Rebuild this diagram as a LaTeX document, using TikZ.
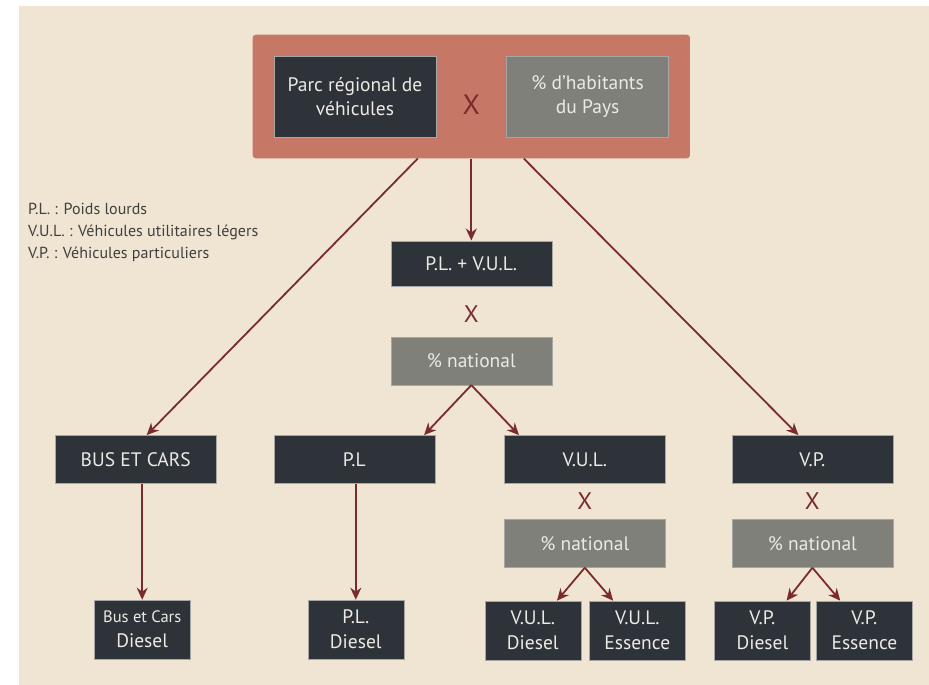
\documentclass[tikz,border=0pt]{standalone}
\usepackage{fontspec}
\setmainfont{PT Sans}
\usetikzlibrary{arrows.meta, positioning, calc, fit, backgrounds}
\definecolor{bgbeige}{HTML}{F0E5D2}
\definecolor{salmon}{HTML}{C77766}
\definecolor{slate}{HTML}{2E333A}
\definecolor{stone}{HTML}{7F8079}
\definecolor{wine}{HTML}{7A2C2C}
\definecolor{paper}{HTML}{ECEAE3}
\tikzset{
  box/.style={
    rectangle, draw=black!35, line width=0.6pt, text=paper, align=center,
    inner sep=0pt, font=\fontsize{19.5}{24}\selectfont
  },
  darkbox/.style={box, fill=slate, minimum width=161pt, minimum height=48pt},
  greybox/.style={box, fill=stone, minimum width=161pt, minimum height=48pt},
  leafbox/.style={box, fill=slate, minimum width=96pt, minimum height=59pt,
    font=\fontsize{19.5}{25}\selectfont},
  cross/.style={text=wine, inner sep=0pt, minimum height=30pt, font=\fontsize{24}{24}\selectfont},
  edge/.style={-{Stealth[length=12pt,width=11pt]}, draw=wine, line width=1.8pt},
  legend/.style={align=left, anchor=north west, inner sep=0pt, text=black!75,
    font=\fontsize{16}{22}\selectfont}
}

\begin{document}
\begin{tikzpicture}[x=1pt, y=1pt]
    \useasboundingbox (0,0) rectangle (929,-685);
    % top: regional fleet x share of inhabitants
    \node[darkbox, minimum width=162pt, minimum height=81pt] (parc) at (355,-96.5) {Parc régional de\\véhicules};
    \node[greybox, minimum width=162pt, minimum height=81pt, right=70pt of parc] (habit) {\% d'habitants\\du Pays};
    \path (parc) -- node[cross, yshift=-8pt, font=\fontsize{28}{28}\selectfont] (x0) {X} (habit);
    \begin{scope}[on background layer]
      \fill[bgbeige] (19,-6) rectangle (929,-685);
      \node[fit=(parc)(habit), inner sep=21pt, fill=salmon, rounded corners=3pt] (region) {};
    \end{scope}
    \node[legend] (key) at (28,-203) {P.L. : Poids lourds\\V.U.L. : Véhicules utilitaires légers\\V.P. : Véhicules particuliers};
    % middle branch
    \node[darkbox, minimum height=45pt, below=82pt of region] (plvul) {P.L. + V.U.L.};
    \node[cross, below=13pt of plvul] (x1) {X};
    \node[greybox, below=7pt of x1] (natl1) {\% national};
    \node[darkbox, below=50pt of natl1, xshift=-117pt] (pl) {P.L};
    \node[darkbox, below=50pt of natl1, xshift=113.5pt] (vul) {V.U.L.};
    \node[darkbox, left=57pt of pl] (bus) {BUS ET CARS};
    \node[darkbox, right=66pt of vul] (vp) {V.P.};
    \node[cross, below=2pt of vul] (x2) {X};
    \node[greybox, below=3pt of x2] (natl2) {\% national};
    \node[cross, below=2pt of vp] (x3) {X};
    \node[greybox, below=3pt of x3] (natl3) {\% national};
    % leaves
    \node[leafbox, below=116pt of bus, xshift=6.5pt] (busd) {{\fontsize{16.5}{20}\selectfont Bus et Cars}\\Diesel};
    \node[leafbox, below=116pt of pl, xshift=1.5pt] (pld) {P.L.\\Diesel};
    \node[leafbox, below=33pt of natl2, xshift=-52pt] (vuld) {V.U.L.\\Diesel};
    \node[leafbox, below=33pt of natl2, xshift=52.5pt] (vule) {V.U.L.\\Essence};
    \node[leafbox, below=33pt of natl3, xshift=-50pt] (vpd) {V.P.\\Diesel};
    \node[leafbox, below=33pt of natl3, xshift=52pt] (vpe) {V.P.\\Essence};
    % connectors
    \draw[edge] ($(region.south)+(-53.5,0)$) -- ($(bus.north)+(11,0)$);
    \draw[edge] (region.south) -- (plvul.north);
    \draw[edge] ($(region.south)+(52.5,0)$) -- ($(vp.north)+(-14,0)$);
    \draw[edge] (natl1.south) -- ($(pl.north east)+(-11,0)$);
    \draw[edge] (natl1.south) -- ($(vul.north west)+(15,0)$);
    \draw[edge] (busd.north |- bus.south) -- (busd.north);
    \draw[edge] (pld.north |- pl.south) -- (pld.north);
    \draw[edge] (natl2.south) -- ($(vuld.north)!0.5!(vuld.north east)$);
    \draw[edge] (natl2.south) -- ($(vule.north)!0.5!(vule.north west)$);
    \draw[edge] (natl3.south) -- ($(vpd.north)!0.5!(vpd.north east)$);
    \draw[edge] (natl3.south) -- ($(vpe.north)!0.5!(vpe.north west)$);
\end{tikzpicture}
\end{document}
